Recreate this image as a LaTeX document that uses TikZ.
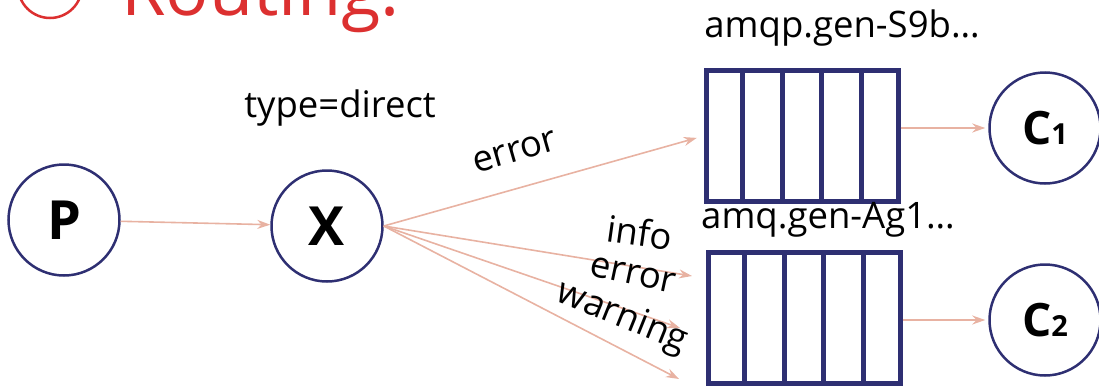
\documentclass[tikz,border=0pt]{standalone}
\usepackage{fontspec}
\setmainfont{Open Sans}
\usetikzlibrary{arrows.meta,calc,positioning}

\definecolor{navy}{HTML}{2E2F72}
\definecolor{salmon}{HTML}{E8B2A2}
\definecolor{titlered}{HTML}{DC3030}

\tikzset{
  actor/.style={circle, draw=navy, line width=2.5pt, minimum size=111pt, inner sep=0pt},
  queue/.style={draw=navy, line width=5pt, minimum width=192pt, minimum height=131pt, inner sep=0pt},
  route/.style={draw=salmon, line width=1.6pt, -{Stealth[length=13pt,width=9pt]}},
  tag/.style={font=\fontsize{36.5}{40}\selectfont}
}

\begin{document}
\begin{tikzpicture}[x=1pt,y=-1pt]
    \useasboundingbox (0,0) rectangle (1099,388);

    % Title (cut off by the page)
    \draw[titlered, line width=2.5pt] (50,-14) circle (32);
    \node[anchor=base west, inner sep=0pt, text=titlered, font=\fontsize{72}{76}\selectfont] (title) at (121,15) {Routing.};

    % Producer and exchange
    \node[actor, font=\fontsize{54}{58}\bfseries] (P) at (64,220) {P};
    \node[actor, font=\fontsize{54}{58}\bfseries] (X) at (327,226) {X};
    \node[tag] (xtype) at (340,108) {type=direct};

    % Queues
    \node[queue] (q1) at (802,136) {};
    \node[queue] (q2) at (804,318) {};
    \foreach \q in {q1,q2}
        \foreach \i in {1,...,4}
            \draw[navy, line width=5pt] ($(\q.north west)!\i/5!(\q.north east)$) -- ($(\q.south west)!\i/5!(\q.south east)$);
    \node[tag] (q1name) at (842,28) {amqp.gen-S9b…};
    \node[tag] (q2name) at (828,220) {amq.gen-Ag1…};

    % Consumers
    \node[actor, font=\fontsize{46}{50}\bfseries] (C1) at (1045,128) {C{\fontsize{29}{31}\selectfont 1}};
    \node[actor, font=\fontsize{46}{50}\bfseries] (C2) at (1045,320) {C{\fontsize{29}{31}\selectfont 2}};

    % Free ends of the bindings to the second queue
    \coordinate (e1) at (692,276);
    \coordinate (e2) at (680,328);
    \coordinate (e3) at (679,379);

    % Arrows
    \draw[route] (P) -- (X);
    \draw[route, shorten >=7pt] (X.east) -- (q1.west);
    \draw[route] (X.east) -- (e1);
    \draw[route] (X.east) -- (e2);
    \draw[route] (X.east) -- (e3);
    \draw[route, shorten >=3pt] (q1.east |- C1.west) -- (C1.west);
    \draw[route, shorten >=3pt] (q2.east |- C2.west) -- (C2.west);

    % Routing keys
    \node[tag, rotate=16] (k1) at (515,152) {error};
    \node[tag, rotate=-8] (k2) at (640,232) {info};
    \node[tag, rotate=-12] (k3) at (633,275) {error};
    \node[tag, rotate=-22] (k4) at (622,318) {warning};

\end{tikzpicture}
\end{document}
